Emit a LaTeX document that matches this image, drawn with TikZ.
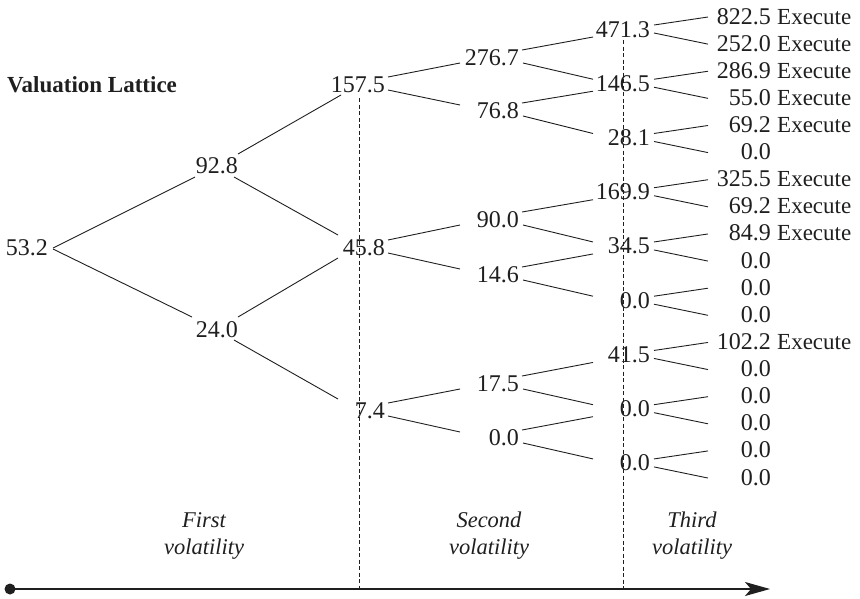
\documentclass[tikz,border=0pt]{standalone}
\usepackage{fontspec}
\setmainfont{Liberation Serif}
\usetikzlibrary{arrows.meta}
\begin{document}
\begin{tikzpicture}[x=1pt,y=-1pt,
  every node/.style={inner sep=0pt, text=black!88, font=\fontsize{22}{27}\selectfont},
  num/.style={anchor=base east, font=\fontsize{24}{27}\selectfont},
  exe/.style={anchor=base west, font=\fontsize{23}{27}\selectfont},
  br/.style={line width=0.9pt, draw=black!88},
  vdash/.style={line width=0.9pt, draw=black!88, dash pattern=on 4pt off 2.5pt},
  lbl/.style={align=center, font=\fontsize{22.5}{27}\selectfont\itshape}]
\useasboundingbox (0,0) rectangle (860,598);

\node[anchor=base west, font=\fontsize{23}{27}\selectfont\bfseries] (title) at (7,92) {Valuation Lattice};

% level 0 and 1
\node[num] (a0) at (48,255) {53.2};
\node[num] (b1) at (238,173) {92.8};
\node[num] (b2) at (238,337) {24.0};
\node[num] (c1) at (385,92) {157.5};
\node[num] (c2) at (385,255) {45.8};
\node[num] (c3) at (385,418) {7.4};
% level 2
\node[num] (d1) at (519,65) {276.7};
\node[num] (d2) at (519,118) {76.8};
\node[num] (d3) at (519,227) {90.0};
\node[num] (d4) at (519,282) {14.6};
\node[num] (d5) at (519,391) {17.5};
\node[num] (d6) at (519,445) {0.0};
% level 3
\foreach \v [count=\j] in {471.3,146.5,28.1,169.9,34.5,0.0,41.5,0.0,0.0}
  \node[num] (e\j) at (650,{37+54.24*(\j-1)}) {\v};
% level 4
\foreach \v [count=\k] in {822.5,252.0,286.9,55.0,69.2,0.0,325.5,69.2,84.9,0.0,0.0,0.0,102.2,0.0,0.0,0.0,0.0,0.0}
  \node[num] (f\k) at (771,{24+27.12*(\k-1)}) {\v};
\foreach \k in {1,2,3,4,5,7,8,9,13}
  \node[exe] (x\k) at ([shift={(6,0)}]f\k.base east) {Execute};

% branches level 0 -> 1
\draw[br] ([shift={(5,-7)}]a0.base east) -- ([shift={(-43,4)}]b1.base east);
\draw[br] ([shift={(5,-6)}]a0.base east) -- ([shift={(-46,-20)}]b2.base east);
\draw[br] ([shift={(0,-19)}]b1.base east) -- ([shift={(-44,3)}]c1.base east);
\draw[br] ([shift={(-4,4)}]b1.base east) -- ([shift={(-47,-20)}]c2.base east);
\draw[br] ([shift={(0,-20)}]b2.base east) -- ([shift={(-47,3)}]c2.base east);
\draw[br] ([shift={(-4,3)}]b2.base east) -- ([shift={(-47,-19)}]c3.base east);

% level 1 -> 2
\foreach \p/\u/\d in {c1/d1/d2, c2/d3/d4, c3/d5/d6} {
  \draw[br] ([shift={(3,-15)}]\p.base east) -- ([shift={(-59,-2)}]\u.base east);
  \draw[br] ([shift={(3,-2)}]\p.base east) -- ([shift={(-59,-13)}]\d.base east);
}
% level 2 -> 3
\foreach \p/\u/\d in {d1/e1/e2, d2/e2/e3, d3/e4/e5, d4/e5/e6, d5/e7/e8, d6/e8/e9} {
  \draw[br] ([shift={(3,-15)}]\p.base east) -- ([shift={(-57,0)}]\u.base east);
  \draw[br] ([shift={(4,-2)}]\p.base east) -- ([shift={(-57,-12)}]\d.base east);
}
% level 3 -> 4
\foreach \j in {1,...,9} {
  \pgfmathtruncatemacro\ka{2*\j-1}
  \pgfmathtruncatemacro\kb{2*\j}
  \draw[br] ([shift={(4,-12)}]e\j.base east) -- ([shift={(-63,-7)}]f\ka.base east);
  \draw[br] ([shift={(4,-4)}]e\j.base east) -- ([shift={(-63,-7)}]f\kb.base east);
}

% time axis
\node[circle, fill=black!88, minimum size=11pt, inner sep=0pt] (org) at (10,589) {};
\coordinate (tip) at (770,589);
\draw[line width=1.3pt, draw=black!88, -{Stealth[length=25pt,width=14pt,inset=6pt]}] (org.center) -- (tip);

% dashed separators
\draw[vdash] ([shift={(-26,6)}]c1.base east) coordinate (v1) -- (v1 |- org);
\draw[vdash] ([shift={(-27,3)}]e1.base east) coordinate (v2) -- (v2 |- org);

% period labels
\node[lbl] (p1) at (204,536) {First\\volatility};
\node[lbl] (p2) at (489,536) {Second\\volatility};
\node[lbl] (p3) at (692,536) {Third\\volatility};
\end{tikzpicture}
\end{document}
